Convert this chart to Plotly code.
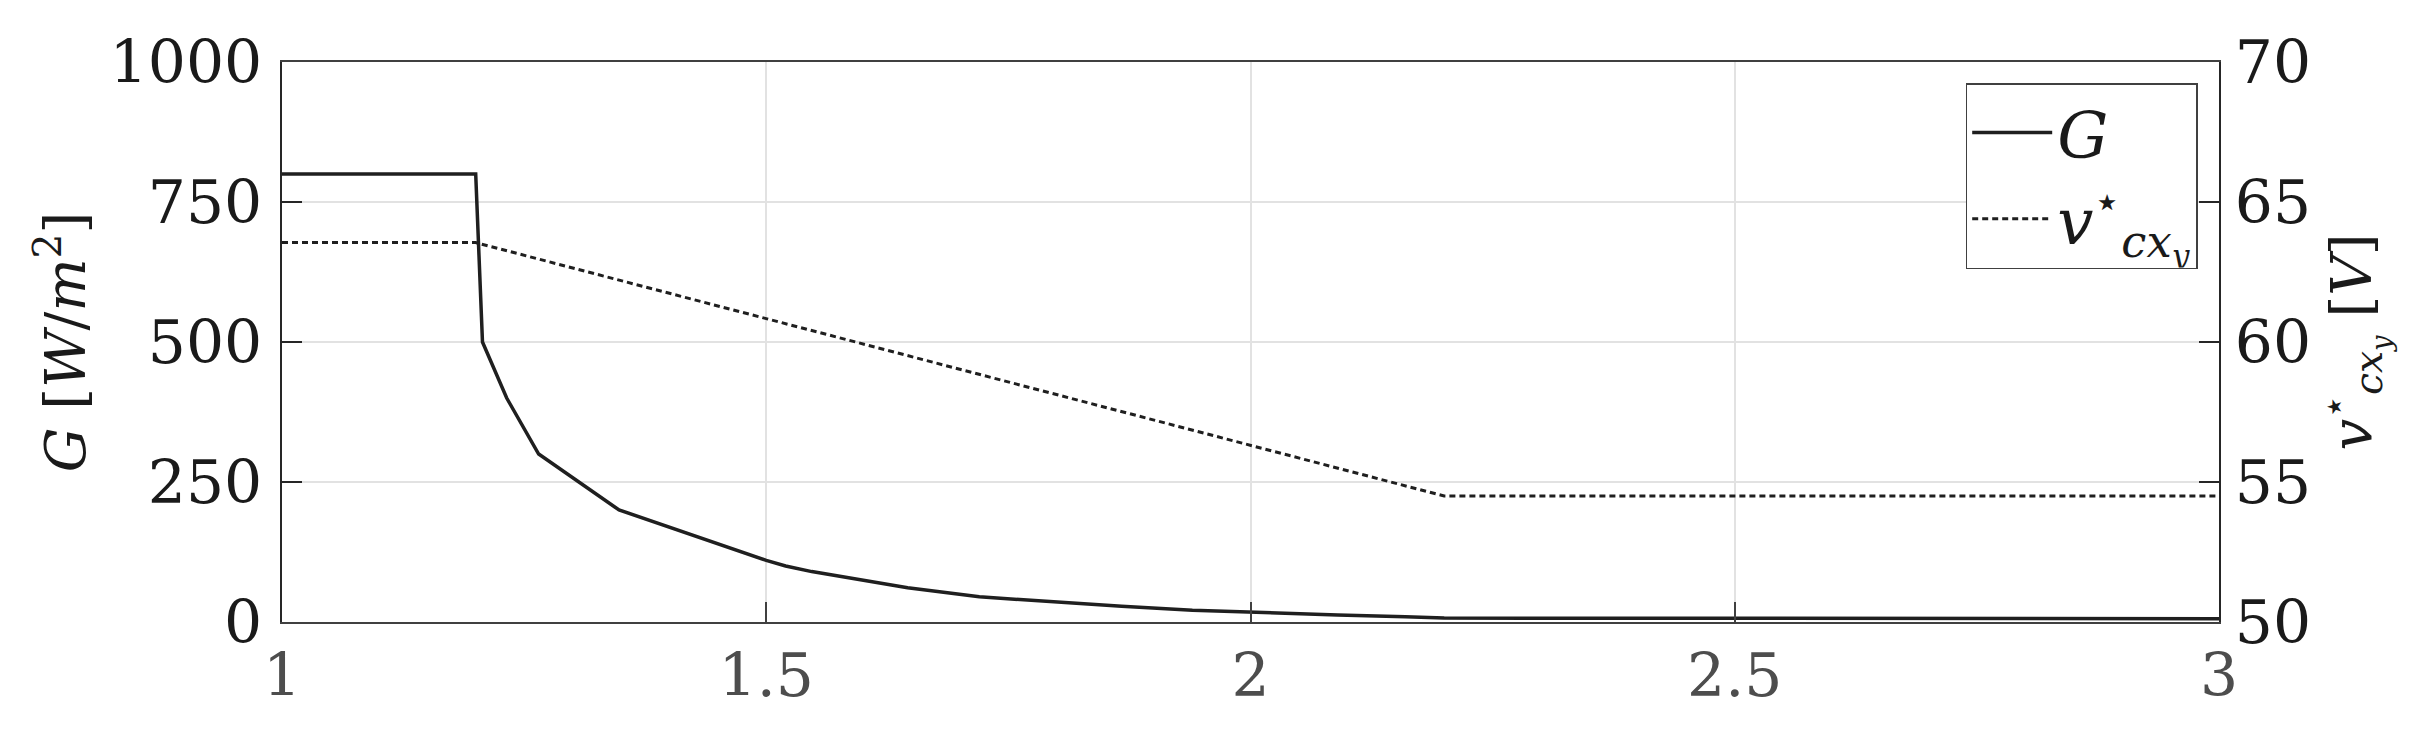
import plotly.graph_objects as go

# irradiance step profile
t_G = [1.0, 1.2, 1.207, 1.232, 1.265, 1.348, 1.50, 1.52, 1.547, 1.61, 1.646,
       1.72, 1.794, 1.867, 1.94, 2.0, 2.09, 2.16, 2.2, 3.0]
G = [800, 800, 500, 400, 300, 200, 110, 100, 90, 72, 61,
     45, 36, 28, 21, 17, 12.5, 9.5, 7, 6]

# voltage reference
t_v = [1.0, 1.2, 2.2, 3.0]
v_ref = [63.55, 63.55, 54.5, 54.5]

x_ticks = [1, 1.5, 2, 2.5, 3]
x_ticktext = ["1", "1.5", "2", "2.5", "3"]
G_ticks = [0, 250, 500, 750, 1000]
v_ticks = [50, 55, 60, 65, 70]

line_col = "#1f1f1f"
serif = "DejaVu Serif"  # only serif face available here

fig = go.Figure()
fig.add_trace(go.Scatter(
    x=t_G, y=G, mode="lines", name="<i>G</i>",
    line=dict(color=line_col, width=3.5), yaxis="y"
))
fig.add_trace(go.Scatter(
    x=t_v, y=v_ref, mode="lines",
    name="<i>v</i><sup>⋆</sup><sub><i>cx</i><sub><i>y</i></sub></sub>",
    line=dict(color=line_col, width=3, dash="6px,4px"), yaxis="y2"
))

fig.update_layout(
    width=2422, height=731,
    margin=dict(l=274, r=211, t=54, b=117),
    paper_bgcolor="white", plot_bgcolor="white",
    font=dict(family=serif, size=60, color="#1a1a1a"),
    showlegend=True,
    legend=dict(
        x=0.989, y=0.9625, xanchor="right", yanchor="top",
        bgcolor="white", bordercolor="#404040", borderwidth=1.5,
        font=dict(family=serif, size=64, color="#1a1a1a"),
        itemwidth=80, tracegroupgap=0,
    ),
    xaxis=dict(
        range=[1, 3], tickvals=x_ticks, ticktext=x_ticktext,
        ticks="inside", ticklen=20, tickwidth=1.5, tickcolor="#404040",
        showline=True, linecolor="#404040", linewidth=1.5, mirror=True,
        showgrid=True, gridcolor="#e2e2e2", gridwidth=1.5,
        zeroline=False, automargin=False,
        tickfont=dict(family=serif, size=60, color="#4d4d4d"),
    ),
    yaxis=dict(
        range=[0, 1000], tickvals=G_ticks,
        ticks="inside", ticklen=20, tickwidth=1.5, tickcolor="#262626",
        showline=True, linecolor="#262626", linewidth=1.5,
        showgrid=True, gridcolor="#e2e2e2", gridwidth=1.5,
        zeroline=False, automargin=False, ticklabelstandoff=6,
        tickfont=dict(family=serif, size=60, color="#1a1a1a"),
        title=dict(text="<i>G</i> [<i>W</i>/<i>m</i><sup>2</sup>]",
                   font=dict(family=serif, size=56, color="#1a1a1a"),
                   standoff=6),
    ),
    yaxis2=dict(
        range=[50, 70], tickvals=v_ticks, overlaying="y", side="right",
        ticks="inside", ticklen=20, tickwidth=1.5, tickcolor="#262626",
        showline=True, linecolor="#262626", linewidth=1.5,
        showgrid=False, zeroline=False, automargin=False, ticklabelstandoff=2,
        tickfont=dict(family=serif, size=60, color="#1a1a1a"),
        title=dict(text="<i>v</i><sup>⋆</sup><sub><i>cx</i><sub><i>y</i></sub></sub> [<i>V</i>]",
                   font=dict(family=serif, size=56, color="#1a1a1a"),
                   standoff=8),
    ),
)

fig.write_html("out.html")
